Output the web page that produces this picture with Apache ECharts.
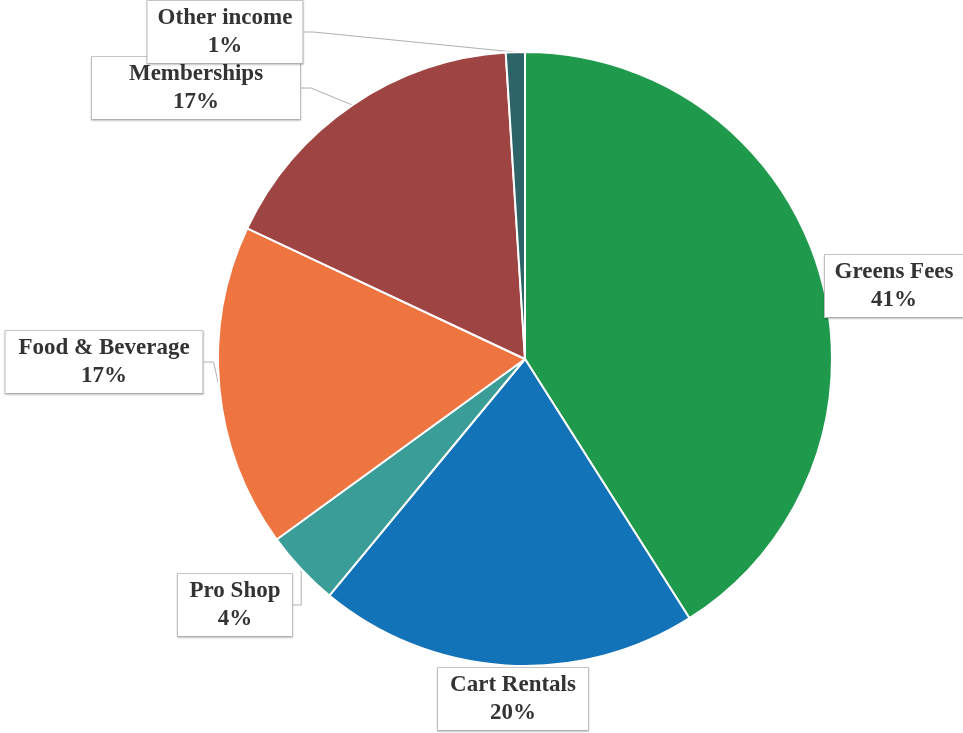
<!DOCTYPE html>
<html>
<head>
<meta charset="utf-8">
<script src="https://cdn.jsdelivr.net/npm/echarts@6/dist/echarts.min.js"></script>
<style>html,body{margin:0;padding:0;background:#fff;}#c{width:963px;height:733px;}</style>
</head>
<body>
<div id="c"></div>
<script>
var categories = ['Greens Fees', 'Cart Rentals', 'Pro Shop', 'Food & Beverage', 'Memberships', 'Other income'];
var values = [41, 20, 4, 17, 17, 1];

// presentation settings (not data)
var colors = ['#1f9a4d', '#1373b8', '#3a9d98', '#ee7440', '#9e4443', '#2c6468'];
var labelBoxes = {
  centers: [[894, 286], [513, 699], [235, 605], [104, 362], [196, 88], [225, 32]],
  widths: [120, 132, 96, 179, 190, 137]
};

var chart = echarts.init(document.getElementById('c'), null, {renderer: 'canvas'});
chart.setOption({
  backgroundColor: '#fff',
  animation: false,
  series: [{
    type: 'pie',
    center: [525, 359],
    radius: [0, 307],
    startAngle: 90,
    clockwise: true,
    data: categories.map(function (n, i) {
      return {
        name: n,
        value: values[i],
        itemStyle: {color: colors[i]},
        label: {width: labelBoxes.widths[i]}
      };
    }),
    itemStyle: {borderColor: '#fff', borderWidth: 2},
    label: {
      show: true,
      formatter: function (p) { return p.name + '\n' + Math.round(p.percent) + '%'; },
      fontFamily: 'Liberation Serif',
      fontWeight: 'bold',
      fontSize: 23,
      lineHeight: 28,
      color: '#333',
      backgroundColor: '#fff',
      borderColor: '#c8c8c8',
      borderWidth: 1,
      padding: [3, 9],
      shadowColor: 'rgba(0,0,0,0.18)',
      shadowBlur: 2,
      shadowOffsetY: 1,
      align: 'center',
      overflow: 'none',
      edgeDistance: 0
    },
    labelLine: {
      show: true,
      length: 10,
      length2: 10,
      lineStyle: {color: '#b0b0b0', width: 1}
    },
    labelLayout: function (p) {
      var c = labelBoxes.centers[p.dataIndex];
      return {x: c[0], y: c[1], align: 'center', verticalAlign: 'middle'};
    }
  }]
});
</script>
</body>
</html>
